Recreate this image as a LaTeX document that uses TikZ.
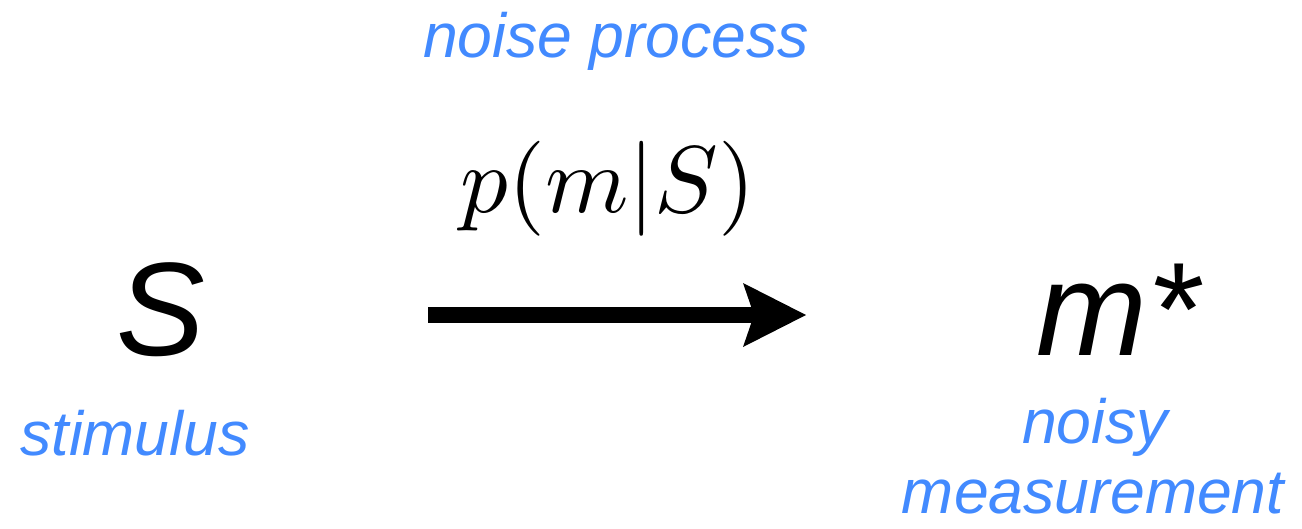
\documentclass[tikz,border=0pt]{standalone}
\usepackage{fontspec}
\usepackage{graphicx}
\newfontfamily\hv{Liberation Sans}
\usetikzlibrary{arrows.meta}
\definecolor{lblue}{RGB}{66,138,255}
\tikzset{
  lbl/.style={anchor=base, inner sep=0pt, text=lblue, font=\hv\itshape\fontsize{62.5}{70}\selectfont},
  big/.style={anchor=base, inner sep=0pt, text=black, font=\hv\itshape\fontsize{133}{140}\selectfont},
  flow/.style={line width=16pt, -{Stealth[length=63pt, width=64pt, inset=11pt, line width=0pt]}}
}
\begin{document}
\begin{tikzpicture}[x=1pt, y=-1pt]
\useasboundingbox (0,0) rectangle (1302,528);
\node[lbl] (np) at (616,57) {noise process};
\node[anchor=base, inner sep=0pt] (pm) at (608,212) {\scalebox{9.5}{$p(m|S)$}};
\node[big] (s) at (161,355) {S};
\node[big] (m) at (1118,355) {m*};
\node[lbl] (st) at (135,455) {stimulus};
\node[lbl] (no) at (1095,443) {noisy};
\node[lbl] (me) at (1093,513) {measurement};
\coordinate (a1) at (428,315);
\coordinate (a2) at (806,315);
\draw[flow] (a1) -- (a2);
\end{tikzpicture}
\end{document}
